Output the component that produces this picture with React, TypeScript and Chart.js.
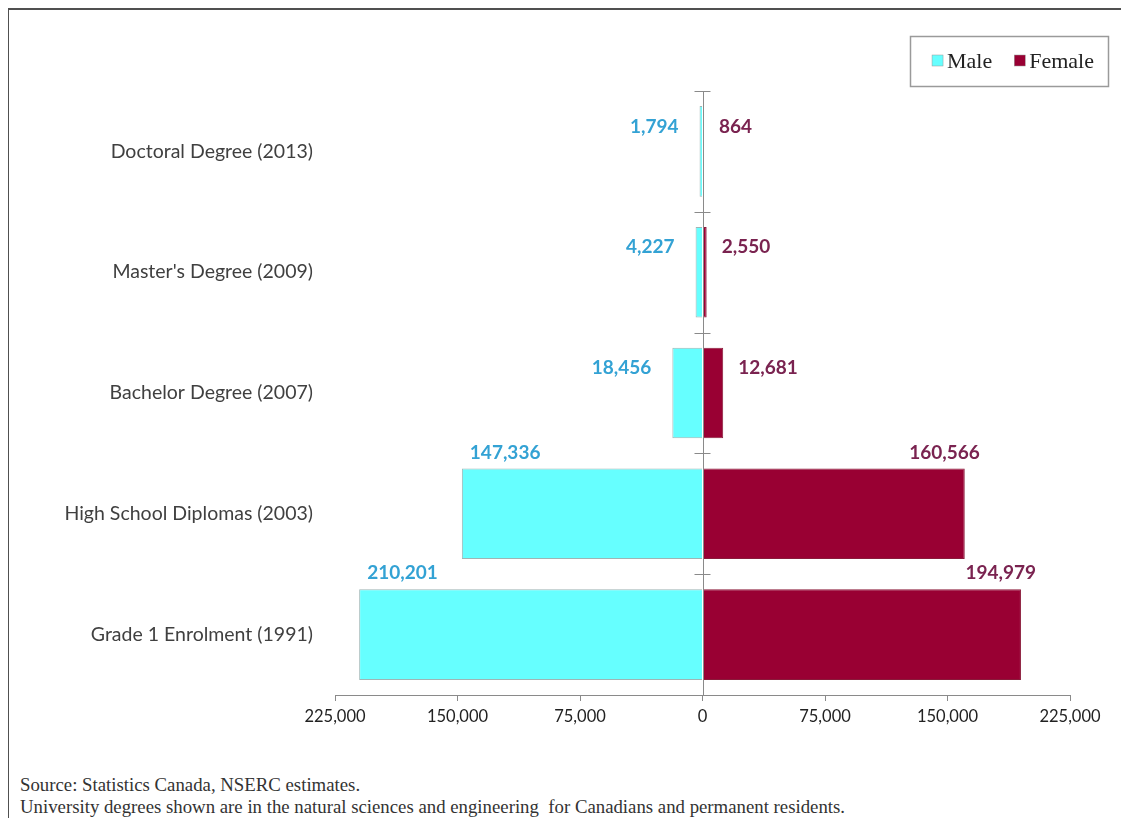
import React, { useEffect, useRef } from 'react';
import { Chart, registerables } from 'chart.js';

Chart.register(...registerables);

const categories = [
  'Doctoral Degree (2013)',
  "Master's Degree (2009)",
  'Bachelor Degree (2007)',
  'High School Diplomas (2003)',
  'Grade 1 Enrolment (1991)',
];
const maleValues = [1794, 4227, 18456, 147336, 210201];
const femaleValues = [864, 2550, 12681, 160566, 194979];
const seriesNames = ['Male', 'Female'];
const xMin = -225000;
const xMax = 225000;
const xStep = 75000;
const sourceLines = [
  'Source: Statistics Canada, NSERC estimates.',
  'University degrees shown are in the natural sciences and engineering  for Canadians and permanent residents.',
];

const MALE_FILL = '#66FFFF';
const FEMALE_FILL = '#990033';
const MALE_TEXT = '#33A2D4';
const FEMALE_TEXT = '#7A2350';
const AXIS_GRAY = '#8a8a8a';

const fmt = (v: number) => Math.abs(v).toLocaleString('en-US');

const zeroAxisPlugin = {
  id: 'zeroAxis',
  afterDatasetsDraw(chart: any) {
    const { ctx, chartArea, scales } = chart;
    const x0 = scales.x.getPixelForValue(0);
    const ys = scales.y;
    ctx.save();
    ctx.strokeStyle = AXIS_GRAY;
    ctx.lineWidth = 1;
    ctx.beginPath();
    ctx.moveTo(Math.round(x0) + 0.5, chartArea.top);
    ctx.lineTo(Math.round(x0) + 0.5, chartArea.bottom);
    for (let i = 0; i <= categories.length; i++) {
      const y = Math.round(ys.getPixelForValue(i - 0.5)) + 0.5;
      ctx.moveTo(x0 - 8, y);
      ctx.lineTo(x0 + 8, y);
    }
    ctx.stroke();
    ctx.restore();
  },
};

const labelPlugin = {
  id: 'valueLabels',
  afterDatasetsDraw(chart: any) {
    const { ctx } = chart;
    ctx.save();
    ctx.font = "bold 19px Lato, 'Open Sans', sans-serif";
    ctx.textBaseline = 'middle';
    chart.data.datasets.forEach((ds: any, di: number) => {
      const meta = chart.getDatasetMeta(di);
      const raw = di === 0 ? maleValues : femaleValues;
      meta.data.forEach((el: any, i: number) => {
        const { x, y, height } = el.getProps(['x', 'y', 'height'], true);
        const v = raw[i];
        const txt = fmt(v);
        ctx.fillStyle = di === 0 ? MALE_TEXT : FEMALE_TEXT;
        if (v < 50000) {
          const ly = y - 25;
          if (di === 0) {
            ctx.textAlign = 'right';
            ctx.fillText(txt, x - 21, ly);
          } else {
            ctx.textAlign = 'left';
            ctx.fillText(txt, x + 15, ly);
          }
        } else {
          const ly = y - height / 2 - 16;
          if (di === 0) {
            ctx.textAlign = 'left';
            ctx.fillText(txt, x + 8, ly);
          } else {
            ctx.textAlign = 'right';
            ctx.fillText(txt, x + 15, ly);
          }
        }
      });
    });
    ctx.restore();
  },
};

const boxLegendPlugin = {
  id: 'boxLegend',
  afterDraw(chart: any) {
    const { ctx, chartArea } = chart;
    ctx.save();
    ctx.font = "22px 'Liberation Serif', 'Times New Roman', serif";
    const widths = chart.data.datasets.map((d: any) => ctx.measureText(d.label).width);
    const padL = 22, sw = 11, gap = 4, between = 22, padR = 14;
    const total = padL + padR + widths.reduce((a: number, w: number) => a + sw + gap + w, 0) + between * (widths.length - 1);
    const right = chartArea.right + 38;
    const left = right - total;
    const top = chartArea.top - 55;
    const h = 50;
    ctx.strokeStyle = '#9a9a9a';
    ctx.lineWidth = 1.5;
    ctx.strokeRect(Math.round(left) + 0.5, top + 0.5, Math.round(total), h);
    let cx = left + padL;
    const cy = top + h / 2;
    chart.data.datasets.forEach((d: any, i: number) => {
      ctx.fillStyle = d.backgroundColor;
      ctx.fillRect(cx, cy - 6, sw, sw);
      ctx.strokeStyle = '#999';
      ctx.lineWidth = 0.5;
      ctx.strokeRect(cx, cy - 6, sw, sw);
      cx += sw + gap;
      ctx.fillStyle = '#222';
      ctx.textAlign = 'left';
      ctx.textBaseline = 'middle';
      ctx.fillText(d.label, cx, cy + 1);
      cx += widths[i] + between;
    });
    ctx.restore();
  },
};

function PyramidChart() {
  const ref = useRef<HTMLCanvasElement>(null);
  useEffect(() => {
    if (!ref.current) return;
    const chart = new Chart(ref.current, {
      type: 'bar',
      data: {
        labels: categories,
        datasets: [
          {
            label: seriesNames[0],
            data: maleValues.map((v) => -v),
            backgroundColor: MALE_FILL,
            borderColor: '#9fb5b5',
            borderWidth: 1,
            categoryPercentage: 0.75,
            barPercentage: 1,
          },
          {
            label: seriesNames[1],
            data: femaleValues,
            backgroundColor: FEMALE_FILL,
            borderColor: '#8a1a3a',
            borderWidth: 1,
            categoryPercentage: 0.75,
            barPercentage: 1,
          },
        ],
      },
      options: {
        indexAxis: 'y',
        responsive: false,
        animation: false,
        layout: { padding: { top: 81, right: 51, left: 0, bottom: 0 } },
        plugins: {
          legend: { display: false },
          title: { display: false },
          tooltip: { enabled: false },
        },
        scales: {
          x: {
            stacked: true,
            min: xMin,
            max: xMax,
            ticks: {
              stepSize: xStep,
              callback: (v: any) => fmt(Number(v)),
              font: { family: 'Lato, sans-serif', size: 16.5 },
              color: '#222',
              padding: 6,
              maxRotation: 0,
            },
            grid: {
              display: true,
              drawOnChartArea: false,
              drawTicks: true,
              tickLength: 6,
              tickColor: AXIS_GRAY,
            },
            border: { display: true, color: AXIS_GRAY, width: 1 },
            afterFit: (s: any) => {
              s.height = 65;
            },
          },
          y: {
            stacked: true,
            offset: true,
            ticks: {
              font: { family: 'Lato, sans-serif', size: 19.5 },
              color: '#404040',
              padding: 22,
            },
            grid: { display: false, drawTicks: false, tickLength: 0 },
            border: { display: false },
            afterFit: (s: any) => {
              s.width = 326;
            },
          },
        },
      },
      plugins: [zeroAxisPlugin, labelPlugin, boxLegendPlugin],
    } as any);
    return () => chart.destroy();
  }, []);
  return <canvas ref={ref} width={1112} height={750} style={{ display: 'block' }} />;
}

export default function App() {
  return (
    <div
      style={{
        position: 'relative',
        marginLeft: -2,
        marginTop: -1,
        borderLeft: '3px solid #505050',
        borderTop: '3px solid #505050',
        background: '#fff',
      }}
    >
      <PyramidChart />
      <div
        style={{
          marginTop: 14,
          paddingLeft: 11,
          fontFamily: "'Liberation Serif', 'Times New Roman', serif",
          fontSize: 18.8,
          lineHeight: '22px',
          color: '#333',
          whiteSpace: 'pre',
        }}
      >
        {sourceLines.map((l, i) => (
          <div key={i}>{l}</div>
        ))}
      </div>
    </div>
  );
}
